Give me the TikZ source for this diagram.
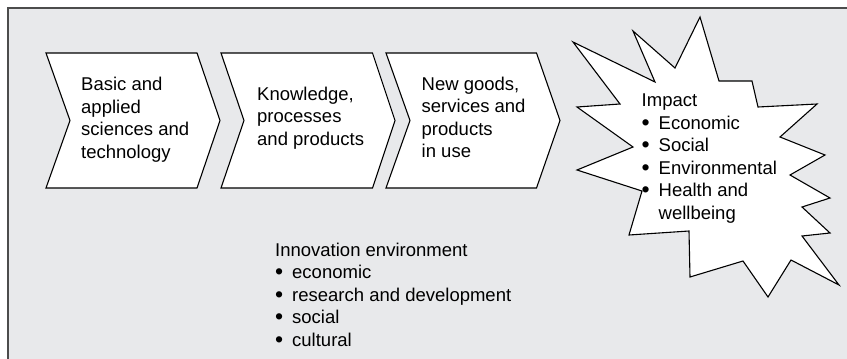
\documentclass[tikz,border=0pt]{standalone}
\usepackage{fontspec}
\setmainfont{Liberation Sans}
\usepackage{xcolor}
\usepackage{graphicx}
\usepackage{tikz}
\definecolor{panelgrey}{RGB}{232,233,235}
\tikzstyle{chevron} = [draw=black, fill=white, line width=1.1pt, line join=miter]
\tikzstyle{burst} = [draw=black, fill=white, line width=1.1pt, line join=miter]
\tikzstyle{label} = [anchor=north west, inner sep=0pt, align=left, font=\fontsize{18.5}{22.5}\selectfont]
\newcommand{\itembullet}{\makebox[17pt][l]{\raisebox{-1pt}{\scalebox{1.25}{\textbullet}}}}

\begin{document}
\begin{tikzpicture}[x=1pt,y=-1pt]
	\useasboundingbox (0,0) rectangle (847,359);
	\fill [panelgrey] (8,8) rectangle (847,359);
	\draw [line width=1.6pt, draw=black!70] (8,359) -- (8,8) -- (847,8);

	% the three steps
	\draw [chevron] (46,53) -- (197,53) -- (220,120.5) -- (197,188) -- (46,188) -- (70,120.5) -- cycle;
	\draw [chevron] (221,53) -- (372.5,53) -- (395,120.5) -- (372.5,188) -- (221,188) -- (244,120.5) -- cycle;
	\draw [chevron] (386,53) -- (536.5,53) -- (560,120.5) -- (536.5,188) -- (386,188) -- (410,120.5) -- cycle;

	\node (sciences) [label] at (81,77.3) {Basic and\\applied\\sciences and\\technology};
	\node (knowledge) [label] at (257,86.6) {Knowledge,\\processes\\and products};
	\node (goods) [label] at (421.5,76.6) {New goods,\\services and\\products\\in use};

	% impact star
	\draw [burst] (700,17) -- (719,81) -- (752,81) -- (758,107) -- (817,104) -- (780,137)
		-- (825,155) -- (790,175) -- (830,198) -- (802,207) -- (830,233) -- (802,236)
		-- (839,285) -- (791,260) -- (768,297) -- (743,261) -- (690,277) -- (689,231)
		-- (629,235) -- (642,191) -- (577,170) -- (633,147) -- (577,107) -- (620,104)
		-- (573,42) -- (655,82) -- (633,31) -- (675,68) -- cycle;
	\node (impact) [label] at (641.5,93.8) {Impact\\\itembullet Economic\\\itembullet Social\\\itembullet Environmental\\\itembullet Health and\\\hspace*{17pt}wellbeing};

	\node (environment) [label] at (275,242.6) {Innovation environment\\\itembullet economic\\\itembullet research and development\\\itembullet social\\\itembullet cultural};

\end{tikzpicture}
\end{document}
